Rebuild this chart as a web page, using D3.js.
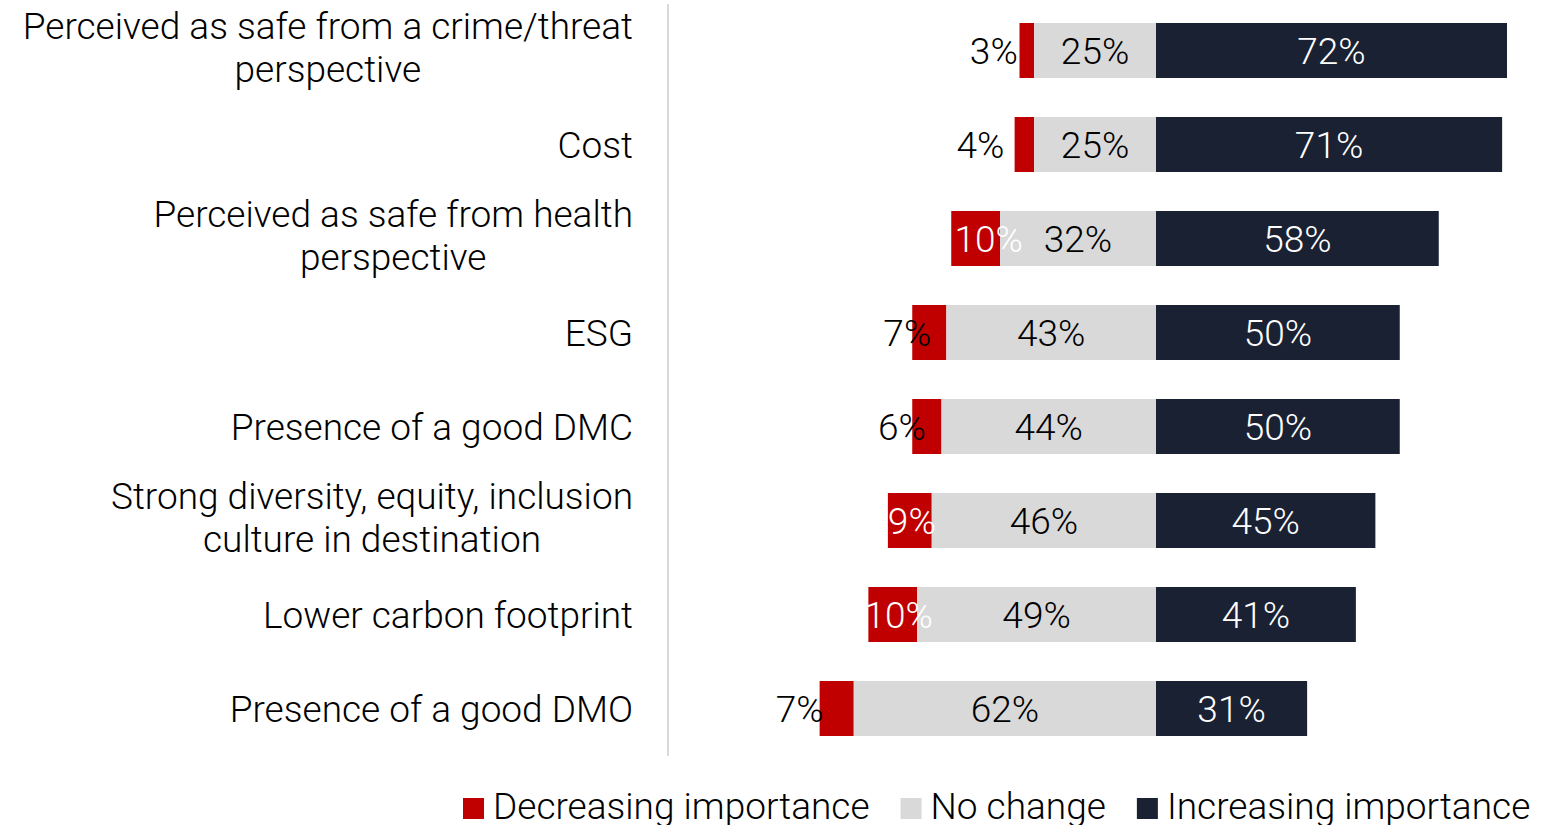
<!DOCTYPE html>
<html>
<head>
<meta charset="utf-8">
<script src="https://cdn.jsdelivr.net/npm/d3@7"></script>
<style>
  html, body { margin: 0; padding: 0; background: #fff; }
  svg { display: block; }
  text { font-family: Roboto, "Noto Sans", sans-serif; font-weight: 300; }
</style>
</head>
<body>
<svg id="chart" width="1560" height="825"></svg>
<script>
// ---- data ----
const categories = [
  ["Perceived as safe from a crime/threat", "perspective"],
  ["Cost"],
  ["Perceived as safe from health", "perspective"],
  ["ESG"],
  ["Presence of a good DMC"],
  ["Strong diversity, equity, inclusion", "culture in destination"],
  ["Lower carbon footprint"],
  ["Presence of a good DMO"]
];
const decreasing = [3, 4, 10, 7, 6, 9, 10, 7];
const noChange   = [25, 25, 32, 43, 44, 46, 49, 62];
const increasing = [72, 71, 58, 50, 50, 45, 41, 31];
const seriesNames = ["Decreasing importance", "No change", "Increasing importance"];

// ---- styling (label placement for the small red segments, as in the original) ----
const colors = ["#c00000", "#d9d9d9", "#1a2133"];
const redLabelDx = [-33, -44, 13, -22, -25, 2, 6, -37];
const redLabelColor = ["#000", "#000", "#fff", "#000", "#000", "#fff", "#fff", "#000"];
const FS = 37;

const svg = d3.select("#chart");

const y = d3.scaleBand()
  .domain(d3.range(categories.length))
  .range([3.5, 755.5])
  .paddingInner(0.415)
  .paddingOuter(0.2075);

const x = d3.scaleLinear().domain([-100, 100]).range([1156 - 487.5, 1156 + 487.5]);

// divider line
svg.append("line")
  .attr("x1", 668).attr("x2", 668)
  .attr("y1", 4).attr("y2", 756)
  .attr("stroke", "#d9d9d9").attr("stroke-width", 2);

// category labels
const labelX = 633;
categories.forEach((lines, i) => {
  const cy = y(i) + y.bandwidth() / 2;
  const t = svg.append("text")
    .attr("text-anchor", "end")
    .attr("font-size", FS)
    .attr("fill", "#000");
  if (lines.length === 1) {
    t.append("tspan").attr("x", labelX).attr("y", cy + 13).text(lines[0]);
  } else {
    const t1 = t.append("tspan").attr("x", labelX).attr("y", cy - 12).text(lines[0]);
    const w1 = t1.node().getComputedTextLength();
    const mid = labelX - w1 / 2;
    t.attr("text-anchor", "middle");
    t1.attr("x", mid);
    t.append("tspan").attr("x", mid).attr("y", cy + 31).text(lines[1]);
  }
});

// bars
const rows = categories.map((c, i) => ({
  i,
  segs: [
    { s: 0, x0: -(decreasing[i] + noChange[i]), x1: -noChange[i], v: decreasing[i] },
    { s: 1, x0: -noChange[i], x1: 0, v: noChange[i] },
    { s: 2, x0: 0, x1: increasing[i], v: increasing[i] }
  ]
}));

const g = svg.append("g");
rows.forEach(r => {
  r.segs.forEach(sg => {
    g.append("rect")
      .attr("x", x(sg.x0))
      .attr("y", y(r.i))
      .attr("width", x(sg.x1) - x(sg.x0))
      .attr("height", y.bandwidth())
      .attr("fill", colors[sg.s]);
  });
});

// data labels
rows.forEach(r => {
  const cy = y(r.i) + y.bandwidth() / 2;
  r.segs.forEach(sg => {
    let cx = (x(sg.x0) + x(sg.x1)) / 2;
    let fill = sg.s === 2 ? "#fff" : "#000";
    if (sg.s === 0) { cx += redLabelDx[r.i]; fill = redLabelColor[r.i]; }
    svg.append("text")
      .attr("x", cx)
      .attr("y", cy + 13)
      .attr("text-anchor", "middle")
      .attr("font-size", FS)
      .attr("fill", fill)
      .text(sg.v + "%");
  });
});

// legend
const legend = svg.append("g");
let lx = 463;
seriesNames.forEach((name, k) => {
  legend.append("rect")
    .attr("x", lx).attr("y", 798)
    .attr("width", 21).attr("height", 21)
    .attr("fill", colors[k]);
  const t = legend.append("text")
    .attr("x", lx + 30).attr("y", 819)
    .attr("font-size", FS)
    .attr("fill", "#000")
    .text(name);
  lx = lx + 30 + t.node().getComputedTextLength() + 31;
});
</script>
</body>
</html>
